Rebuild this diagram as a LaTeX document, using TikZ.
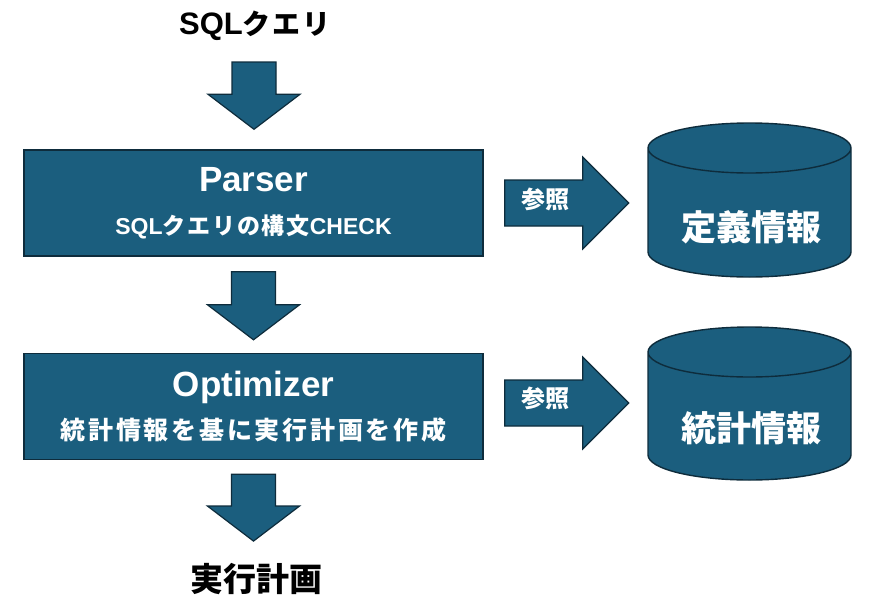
\documentclass[tikz,border=0pt]{standalone}
\usepackage{fontspec}
\setmainfont{Noto Sans CJK JP}
\newfontfamily\lat{Liberation Sans}
\usetikzlibrary{calc,positioning}
\definecolor{dbfill}{RGB}{27,94,126}
\definecolor{dbline}{RGB}{14,44,60}
% fat block arrows between two named points
\newcommand{\fatdown}[2]{\draw[fatarr] let \p1=(#1), \p2=(#2) in
  (\x1-22pt,\y1) -- (\x1+22pt,\y1) -- (\x1+22pt,\y2+35pt) -- (\x1+46pt,\y2+35pt)
  -- (\x1,\y2) -- (\x1-46pt,\y2+35pt) -- (\x1-22pt,\y2+35pt) -- cycle;}
\newcommand{\fatright}[2]{\draw[fatarr] let \p1=(#1), \p2=(#2) in
  (\x1,\y1+23pt) -- (\x2-46pt,\y1+23pt) -- (\x2-46pt,\y1+46pt) -- (\x2,\y1)
  -- (\x2-46pt,\y1-46pt) -- (\x2-46pt,\y1-23pt) -- (\x1,\y1-23pt) -- cycle;}
% database drum: centre x, top y, bottom y
\newcommand{\drum}[3]{\draw[store] (#1-101.5,#2+25) -- (#1-101.5,#3-25)
  arc[start angle=180,end angle=0,x radius=101.5,y radius=25] -- (#1+101.5,#2+25)
  arc[start angle=0,end angle=-180,x radius=101.5,y radius=25] -- cycle
  (#1-101.5,#2+25) arc[start angle=180,end angle=0,x radius=101.5,y radius=25];}
\newcommand{\ls}[1]{\addfontfeature{LetterSpace=#1}}

\begin{document}
\begin{tikzpicture}[x=1pt,y=-1pt,
  stage/.style={draw=dbline,line width=1.4pt,fill=dbfill,text=white,align=center,
    minimum width=459pt,minimum height=106pt,inner sep=0pt,font=\bfseries},
  store/.style={draw=dbline,line width=1.4pt,fill=dbfill},
  storetext/.style={text=white,inner sep=0pt,font=\bfseries\fontsize{35}{35}\selectfont},
  fatarr/.style={draw=dbline,line width=1.2pt,fill=dbfill},
  head/.style={font=\bfseries\fontsize{31}{31}\selectfont,inner sep=0pt},
  ref/.style={text=white,font=\bfseries\fontsize{24}{24}\selectfont,inner sep=0pt}]
\useasboundingbox (0,0) rectangle (877,608);

\node[head] (sql) at (255,26) {{\lat\fontsize{31}{31}\selectfont SQL}{\fontsize{28}{28}\selectfont\ls{7}クエリ}};
\node[stage] (parser) at (253.5,203)
  {{\lat\fontsize{35}{35}\selectfont Parser}\\[22pt]{\fontsize{23}{23}\selectfont{\lat\fontsize{23}{23}\selectfont SQL}{\ls{8}クエリの構文}{\lat\fontsize{23}{23}\selectfont CHECK}}};
\node[stage] (optim) at (253.5,406.5)
  {{\lat\fontsize{35}{35}\selectfont Optimizer}\\[13pt]{\fontsize{25}{25}\selectfont\ls{11}統計情報を基に実行計画を作成}};
\node[head,font=\bfseries\fontsize{33}{33}\selectfont] (plan) at (256,579) {実行計画};

\drum{749.5}{123}{277}
\node[storetext] (defs) at (751,227) {定義情報};
\drum{749.5}{327}{480}
\node[storetext] (stats) at (751,428) {統計情報};

% vertical flow
\coordinate (d1a) at ($(sql.south)+(-1,21)$);
\coordinate (d1b) at ($(parser.north)+(0,-20)$);
\coordinate (d2a) at ($(parser.south)+(0,15)$);
\coordinate (d2b) at ($(optim.north)+(0,-13)$);
\coordinate (d3a) at ($(optim.south)+(0,14)$);
\coordinate (d3b) at ($(plan.north)+(0,-22)$);
\fatdown{d1a}{d1b}
\fatdown{d2a}{d2b}
\fatdown{d3a}{d3b}

% lookups
\coordinate (r1a) at ($(parser.east)+(21,0)$);
\coordinate (r1b) at ($(parser.east)+(145,-1)$);
\coordinate (r2a) at ($(optim.east)+(21,-3.5)$);
\coordinate (r2b) at ($(optim.east)+(145,-3.5)$);
\fatright{r1a}{r1b}
\fatright{r2a}{r2b}
\node[ref] (ref1) at ($(r1a)+(41,-4)$) {参照};
\node[ref] (ref2) at ($(r2a)+(41,-5)$) {参照};
\end{tikzpicture}
\end{document}
